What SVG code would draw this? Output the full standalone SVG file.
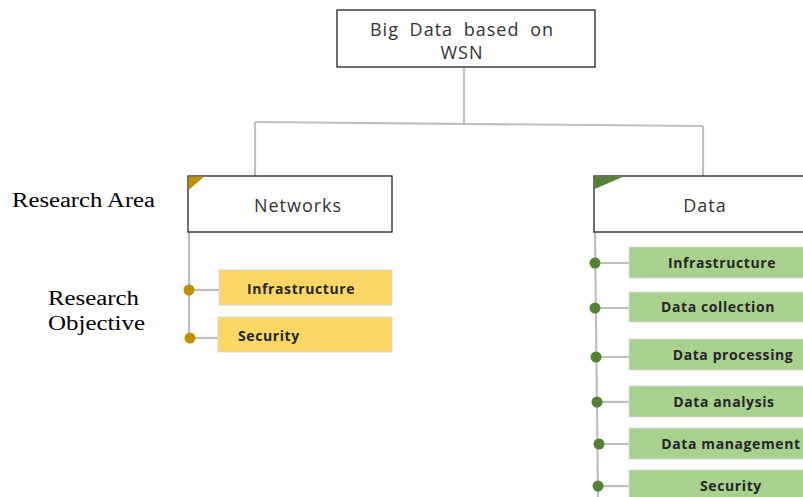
<svg xmlns="http://www.w3.org/2000/svg" width="803" height="497" viewBox="0 0 803 497">
<style>
.box{fill:#fff;stroke:#222;stroke-width:1.3}
.t{font-family:"Open Sans","Noto Sans",sans-serif;font-size:18px;fill:#333;text-anchor:middle;letter-spacing:1px}
.lbl{font-family:"Liberation Serif",serif;font-size:20px;fill:#000}
.y{fill:#fdd766;stroke:#d9d9d9;stroke-width:1}
.g{fill:#a9d18e;stroke:#d9d9d9;stroke-width:1}
.b{font-family:"Open Sans","Noto Sans",sans-serif;font-size:14px;font-weight:bold;fill:#262626;letter-spacing:0.6px}
.ln{stroke:#bfbfbf;stroke-width:2.2;fill:none}
.dy{fill:#bf9000}
.dg{fill:#548235}
</style>
<g id="connectors">
<path class="ln" d="M464 68 V124"/>
<path class="ln" d="M255 122 L703 126"/>
<path class="ln" d="M255 122 V177"/>
<path class="ln" d="M703 126 V177"/>
<path class="ln" d="M189 232 V338"/>
<path class="ln" d="M189 290 H219"/>
<path class="ln" d="M190 338 H218"/>
<path class="ln" d="M595 232 L598 497"/>
<path class="ln" d="M595 263 H629"/>
<path class="ln" d="M595 308 H629"/>
<path class="ln" d="M596 357 H629"/>
<path class="ln" d="M597 402 H629"/>
<path class="ln" d="M599 444 H629"/>
<path class="ln" d="M598 486 H629"/>
<circle class="dy" cx="189" cy="290" r="5.5"/>
<circle class="dy" cx="190" cy="338" r="5.5"/>
<circle class="dg" cx="595" cy="263" r="5.5"/>
<circle class="dg" cx="595" cy="308" r="5.5"/>
<circle class="dg" cx="596" cy="357" r="5.5"/>
<circle class="dg" cx="597" cy="402" r="5.5"/>
<circle class="dg" cx="599" cy="444" r="5.5"/>
<circle class="dg" cx="598" cy="486" r="5.5"/>
</g>
<g id="root">
<rect class="box" x="337" y="10" width="258" height="57"/>
<text class="t" x="462" y="36" word-spacing="5">Big Data based on</text>
<text class="t" x="462" y="59">WSN</text>
</g>
<g id="networks">
<rect class="box" x="188" y="176" width="204" height="56"/>
<polygon points="188.7,176.7 204,176.7 188.7,190" fill="#bf9000"/>
<text class="t" x="298" y="212">Networks</text>
</g>
<g id="data">
<rect class="box" x="594" y="176" width="215" height="56"/>
<polygon points="594.7,176.7 623,176.7 594.7,189" fill="#548235"/>
<text class="t" x="705" y="212">Data</text>
</g>
<g id="label-area"><text class="lbl" x="12" y="207" textLength="143" lengthAdjust="spacingAndGlyphs">Research Area</text></g>
<g id="label-objective">
<text class="lbl" x="48" y="305" textLength="91" lengthAdjust="spacingAndGlyphs">Research</text>
<text class="lbl" x="48" y="330" textLength="97" lengthAdjust="spacingAndGlyphs">Objective</text>
</g>
<g id="n-infra"><rect class="y" x="219" y="270" width="173" height="35"/><text class="b" x="247" y="294">Infrastructure</text></g>
<g id="n-sec"><rect class="y" x="218" y="317" width="174" height="35"/><text class="b" x="238" y="341">Security</text></g>
<g id="d-infra"><rect class="g" x="629" y="247" width="180" height="31"/><text class="b" x="722" y="268" text-anchor="middle">Infrastructure</text></g>
<g id="d-coll"><rect class="g" x="629" y="292" width="180" height="30"/><text class="b" x="718" y="312" text-anchor="middle">Data collection</text></g>
<g id="d-proc"><rect class="g" x="629" y="339" width="180" height="31"/><text class="b" x="733" y="360" text-anchor="middle">Data processing</text></g>
<g id="d-anal"><rect class="g" x="629" y="386" width="180" height="31"/><text class="b" x="724" y="407" text-anchor="middle">Data analysis</text></g>
<g id="d-mgmt"><rect class="g" x="629" y="428" width="180" height="31"/><text class="b" x="731" y="449" text-anchor="middle">Data management</text></g>
<g id="d-sec"><rect class="g" x="629" y="470" width="180" height="31"/><text class="b" x="731" y="491" text-anchor="middle">Security</text></g>
</svg>
